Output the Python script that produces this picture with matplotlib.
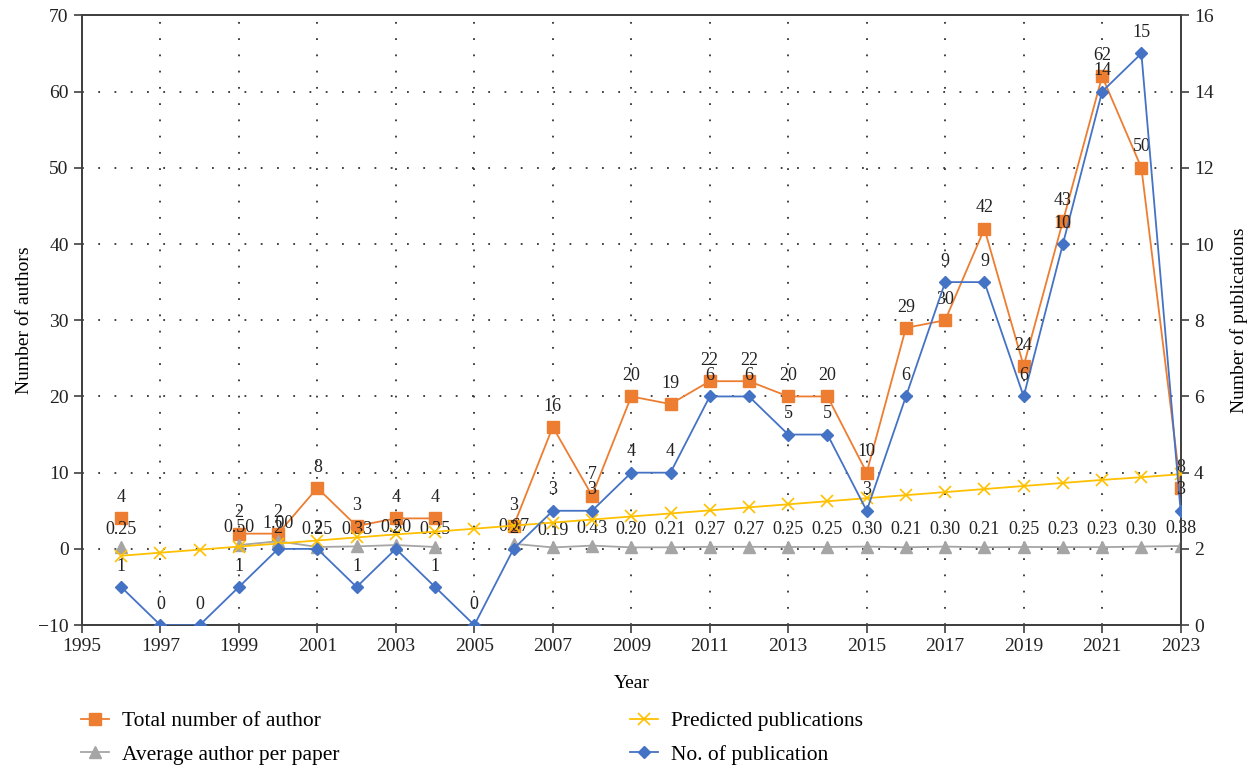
import numpy as np
import matplotlib
matplotlib.use('Agg')
import matplotlib.pyplot as plt

plt.rcParams['font.family'] = ['Liberation Serif', 'DejaVu Serif']

# Yearly data (NaN = no papers that year)
years = list(range(1996, 2024))
total_authors = [4, np.nan, np.nan, 2, 2, 8, 3, 4, 4, np.nan, 3, 16, 7, 20, 19, 22, 22, 20, 20,
                 10, 29, 30, 42, 24, 43, 62, 50, 8]
avg_author = [0.25, np.nan, np.nan, 0.50, 1.00, 0.25, 0.33, 0.50, 0.25, np.nan, 0.67, 0.19, 0.43,
              0.20, 0.21, 0.27, 0.27, 0.25, 0.25, 0.30, 0.21, 0.30, 0.21, 0.25, 0.23, 0.23, 0.30, 0.38]
publications = [1, 0, 0, 1, 2, 2, 1, 2, 1, 0, 2, 3, 3, 4, 4, 6, 6, 5, 5, 3, 6, 9, 9, 6, 10, 14, 15, 3]
predicted = [1.82, 1.90, 1.98, 2.06, 2.14, 2.22, 2.30, 2.38, 2.45, 2.53, 2.61, 2.69, 2.77, 2.85,
             2.93, 3.01, 3.09, 3.17, 3.25, 3.33, 3.41, 3.49, 3.57, 3.65, 3.73, 3.81, 3.88, 3.96]

c_orange = '#ED7D31'
c_gray = '#A5A5A5'
c_yellow = '#FFC000'
c_blue = '#4472C4'
axis_col = '#404040'

fig = plt.figure(figsize=(12.6, 7.67), dpi=100)
ax = fig.add_axes([0.065, 0.185, 0.872, 0.795])
ax2 = ax.twinx()

l1, = ax.plot(years, total_authors, color=c_orange, marker='s', markersize=8, lw=1.3,
              label='Total number of author', zorder=3)
l2, = ax.plot(years, avg_author, color=c_gray, marker='^', markersize=8, lw=1.3,
              label='Average author per paper', zorder=3)
l3, = ax2.plot(years, predicted, color=c_yellow, marker='x', markersize=8, mew=1.2, lw=1.3,
               label='Predicted publications', zorder=3)
l4, = ax2.plot(years, publications, color=c_blue, marker='D', markersize=6.5, lw=1.3,
               label='No. of publication', zorder=3)

ax.set_xlim(1995, 2023)
ax.set_ylim(-10, 70)
ax2.set_ylim(0, 16)
ax.set_xticks(range(1995, 2024, 2))
ax.set_yticks(range(-10, 71, 10))
ax2.set_yticks(range(0, 17, 2))

ax.grid(True, linestyle=(0, (1, 8)), color='#333333', linewidth=1.3)

for a in (ax, ax2):
    for s in a.spines.values():
        s.set_color(axis_col)
        s.set_linewidth(1.3)
    a.tick_params(labelsize=14, colors='#222222', length=6, width=1.2, direction='out')
    a.tick_params(axis='both', color=axis_col)

ax.set_xlabel('Year', fontsize=14, labelpad=14)
ax.set_ylabel('Number of authors', fontsize=14, labelpad=4)
ax2.set_ylabel('Number of publications', fontsize=14, labelpad=12)

# value labels above the markers
lbl = dict(ha='center', va='center', fontsize=13, color='#222222', zorder=6)
for x, v in zip(years, total_authors):
    if not np.isnan(v):
        ax.annotate(f'{v:.0f}', (x, v), xytext=(0, 15), textcoords='offset points', **lbl)
for x, v in zip(years, avg_author):
    if not np.isnan(v):
        ax.annotate(f'{v:.2f}', (x, v), xytext=(0, 12.5), textcoords='offset points', **lbl)
for x, v in zip(years, publications):
    ax2.annotate(f'{v}', (x, v), xytext=(0, 15), textcoords='offset points', **lbl)

fig.legend(handles=[l1, l2, l3, l4], ncol=2, loc='upper left', bbox_to_anchor=(0.049, 0.098),
           frameon=False, fontsize=15.5, handlelength=1.3, columnspacing=13.5, labelspacing=0.62,
           handletextpad=0.6)

fig.savefig('out.png', dpi=100)
plt.close()
